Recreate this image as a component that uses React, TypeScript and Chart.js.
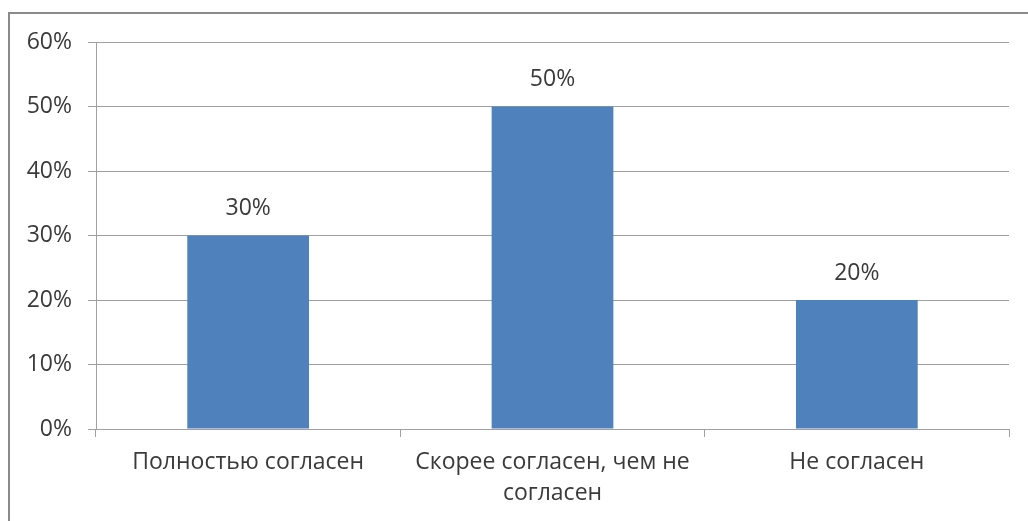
import React, { useEffect, useRef } from "react";
import { Chart, registerables } from "chart.js";

Chart.register(...registerables);

const categories: (string | string[])[] = [
  "Полностью согласен",
  ["Скорее согласен, чем не", "согласен"],
  "Не согласен",
];
const values: number[] = [30, 50, 20];
const yMin = 0;
const yMax = 60;
const yStep = 10;

const FONT = "'Open Sans', sans-serif";
const TEXT = "#3a3a3a";
const SIZE = 23;

const frame = {
  id: "frame",
  afterDraw(chart: any) {
    const ctx = chart.ctx;
    ctx.save();
    ctx.strokeStyle = "#8a8a8a";
    ctx.lineWidth = 2;
    ctx.strokeRect(9, 13, 1100, 600);
    ctx.restore();
  },
};

const barLabels = {
  id: "barLabels",
  afterDatasetsDraw(chart: any) {
    const ctx = chart.ctx;
    const meta = chart.getDatasetMeta(0);
    ctx.save();
    ctx.font = `${SIZE}px ${FONT}`;
    ctx.fillStyle = TEXT;
    ctx.textAlign = "center";
    ctx.textBaseline = "middle";
    meta.data.forEach((el: any, i: number) => {
      ctx.fillText(values[i] + "%", el.x, el.y - 27);
    });
    ctx.restore();
  },
};

export default function App() {
  const ref = useRef<HTMLCanvasElement>(null);
  useEffect(() => {
    document.body.style.margin = "0";
    const chart = new Chart(ref.current!, {
      type: "bar",
      data: {
        labels: categories,
        datasets: [
          {
            data: values,
            backgroundColor: "#4F81BD",
            categoryPercentage: 0.4,
            barPercentage: 1,
          },
        ],
      },
      plugins: [frame, barLabels],
      options: {
        animation: false,
        responsive: false,
        maintainAspectRatio: false,
        layout: { padding: { top: 42, right: 19, left: 0, bottom: 0 } },
        plugins: { legend: { display: false }, tooltip: { enabled: false } },
        scales: {
          x: {
            afterFit(scale: any) {
              scale.height = 92;
            },
            grid: {
              display: true,
              drawOnChartArea: false,
              drawTicks: true,
              tickLength: 8,
              color: "#a0a0a0",
            },
            border: { color: "#a0a0a0" },
            ticks: {
              color: TEXT,
              font: { family: FONT, size: SIZE, lineHeight: 1.35 },
              padding: 10,
              maxRotation: 0,
              autoSkip: false,
            },
          },
          y: {
            min: yMin,
            max: yMax,
            afterFit(scale: any) {
              scale.width = 96;
            },
            grid: { color: "#a0a0a0", tickLength: 8 },
            border: { color: "#a0a0a0" },
            ticks: {
              stepSize: yStep,
              color: TEXT,
              font: { family: FONT, size: SIZE },
              padding: 16,
              callback: (v: any) => v + "%",
            },
          },
        },
      },
    });
    return () => chart.destroy();
  }, []);
  return <canvas ref={ref} width={1028} height={521} style={{ display: "block" }} />;
}
